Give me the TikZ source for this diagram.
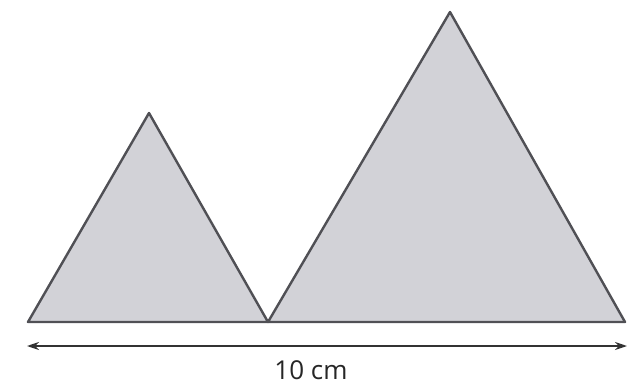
\documentclass[tikz,border=0pt]{standalone}
\usepackage{fontspec}
\setmainfont{Open Sans}
\usetikzlibrary{arrows.meta}
\definecolor{shade}{RGB}{210,210,215}
\definecolor{edge}{RGB}{80,80,85}
\tikzset{tri/.style={draw=edge,fill=shade,line width=2.4pt,line join=round}}
\tikzset{measure/.style={draw=black!80,line width=1.8pt,{Stealth[length=12pt,width=8pt]}-{Stealth[length=12pt,width=8pt]}}}
\tikzset{lengthtext/.style={font=\fontsize{26}{30}\selectfont,text=black!85}}

\begin{document}
\begin{tikzpicture}[x=1pt,y=-1pt]
    \useasboundingbox (0,0) rectangle (628,390);
    % base corners and tops
    \coordinate (p1) at (28,322);
    \coordinate (p2) at (268,322);
    \coordinate (p3) at (625,322);
    \coordinate (t1) at (149,113);
    \coordinate (t2) at (450,12);
    \draw[tri] (p1) -- (t1) -- (p2) -- cycle;
    \draw[tri] (p2) -- (t2) -- (p3) -- cycle;

    % length
    \coordinate (m1) at (27,346);
    \coordinate (m2) at (627,346);
    \draw[measure] (m1) -- (m2);
    \node[lengthtext] (len) at (311,370) {10 cm};
\end{tikzpicture}
\end{document}
